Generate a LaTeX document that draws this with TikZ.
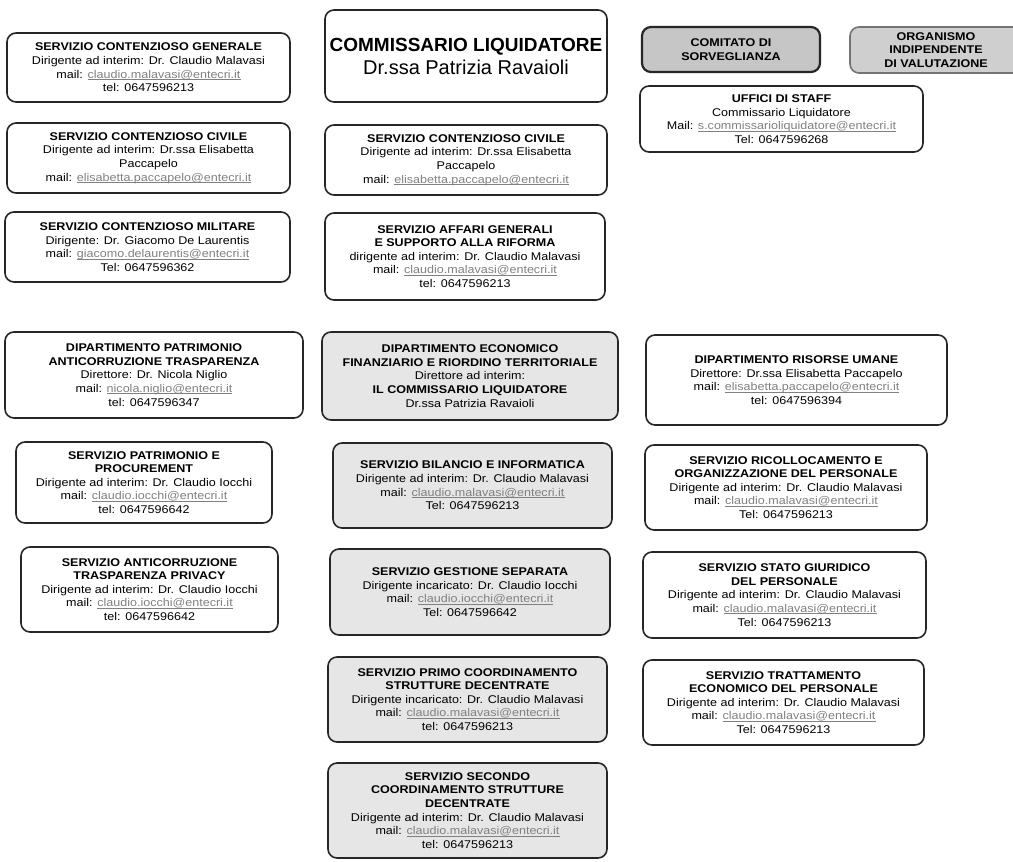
\documentclass[tikz,border=0pt]{standalone}
\usepackage{fontspec}
\setmainfont{Liberation Sans}[FakeStretch=1.12]
\newfontfamily\titlefont{Liberation Sans}
\definecolor{addr}{HTML}{808080}
\definecolor{boxgray}{HTML}{E6E6E6}
\definecolor{comgray}{HTML}{C6C6C6}
\definecolor{orggray}{HTML}{CFCFCF}
\definecolor{edge}{HTML}{262626}
\newcommand\mlink[2][mail]{#1: \textcolor{addr}{\setbox0\hbox{#2}\rlap{\rule[-1.4pt]{\wd0}{0.5pt}}\box0}}
\begin{document}
\begin{tikzpicture}[x=1pt,y=-1pt,
  box/.style={draw=edge, line width=1.6pt, rounded corners=9pt, align=center,
    inner sep=2pt, font=\fontsize{11.2}{13.6}\selectfont},
  graybox/.style={box, fill=boxgray},
  wh/.style 2 args={minimum width=#1pt, minimum height=#2pt}]
\useasboundingbox (0,0) rectangle (1013,862);

% ---------- left column ----------
\node[box, wh={283}{69}] (l1) at (148.5,67.5) {\textbf{SERVIZIO CONTENZIOSO GENERALE}\\Dirigente ad interim: Dr. Claudio Malavasi\\\mlink{claudio.malavasi@entecri.it}\\tel: 0647596213};
\node[box, wh={283}{70}] (l2) at (148.5,158) {\textbf{SERVIZIO CONTENZIOSO CIVILE}\\Dirigente ad interim: Dr.ssa Elisabetta\\Paccapelo\\\mlink{elisabetta.paccapelo@entecri.it}};
\node[box, wh={285}{70}] (l3) at (147.5,247) {\textbf{SERVIZIO CONTENZIOSO MILITARE}\\Dirigente: Dr. Giacomo De Laurentis\\\mlink{giacomo.delaurentis@entecri.it}\\Tel: 0647596362};
\node[box, wh={298}{86}] (l4) at (154,375) {\textbf{DIPARTIMENTO PATRIMONIO}\\\textbf{ANTICORRUZIONE TRASPARENZA}\\Direttore: Dr. Nicola Niglio\\\mlink{nicola.niglio@entecri.it}\\tel: 0647596347};
\node[box, wh={256}{81}] (l5) at (144,482.5) {\textbf{SERVIZIO PATRIMONIO E}\\\textbf{PROCUREMENT}\\Dirigente ad interim: Dr. Claudio Iocchi\\\mlink{claudio.iocchi@entecri.it}\\tel: 0647596642};
\node[box, wh={257}{85}] (l6) at (149.5,589.5) {\textbf{SERVIZIO ANTICORRUZIONE}\\\textbf{TRASPARENZA PRIVACY}\\Dirigente ad interim: Dr. Claudio Iocchi\\\mlink{claudio.iocchi@entecri.it}\\tel: 0647596642};

% ---------- middle column ----------
\node[box, wh={282}{92}, font=\titlefont\fontsize{19}{23}\selectfont] (m1) at (466,56) {\textbf{COMMISSARIO LIQUIDATORE}\\{\fontsize{20}{23}\selectfont Dr.ssa Patrizia Ravaioli}};
\node[box, wh={282}{70}] (m2) at (466,160) {\textbf{SERVIZIO CONTENZIOSO CIVILE}\\Dirigente ad interim: Dr.ssa Elisabetta\\Paccapelo\\\mlink{elisabetta.paccapelo@entecri.it}};
\node[box, wh={280}{87}] (m3) at (465,256.5) {\textbf{SERVIZIO AFFARI GENERALI}\\\textbf{E SUPPORTO ALLA RIFORMA}\\dirigente ad interim: Dr. Claudio Malavasi\\\mlink{claudio.malavasi@entecri.it}\\tel: 0647596213};
\node[graybox, wh={296}{88}] (m4) at (470,376) {\textbf{DIPARTIMENTO ECONOMICO}\\\textbf{FINANZIARIO E RIORDINO TERRITORIALE}\\Direttore ad interim:\\\textbf{IL COMMISSARIO LIQUIDATORE}\\Dr.ssa Patrizia Ravaioli};
\node[graybox, wh={279}{85}] (m5) at (472.5,485.5) {\textbf{SERVIZIO BILANCIO E INFORMATICA}\\Dirigente ad interim: Dr. Claudio Malavasi\\\mlink{claudio.malavasi@entecri.it}\\Tel: 0647596213};
\node[graybox, wh={280}{86}] (m6) at (470,592) {\textbf{SERVIZIO GESTIONE SEPARATA}\\Dirigente incaricato: Dr. Claudio Iocchi\\\mlink{claudio.iocchi@entecri.it}\\Tel: 0647596642};
\node[graybox, wh={279}{85}] (m7) at (467.5,699.5) {\textbf{SERVIZIO PRIMO COORDINAMENTO}\\\textbf{STRUTTURE DECENTRATE}\\Dirigente incaricato: Dr. Claudio Malavasi\\\mlink{claudio.malavasi@entecri.it}\\tel: 0647596213};
\node[graybox, wh={279}{95}] (m8) at (467.5,810.5) {\textbf{SERVIZIO SECONDO}\\\textbf{COORDINAMENTO STRUTTURE}\\\textbf{DECENTRATE}\\Dirigente ad interim: Dr. Claudio Malavasi\\\mlink{claudio.malavasi@entecri.it}\\tel: 0647596213};

% ---------- right column ----------
\node[box, fill=comgray, line width=2.2pt, wh={178}{45}] (r1) at (731,49.5) {\textbf{COMITATO DI}\\\textbf{SORVEGLIANZA}};
\node[box, fill=orggray, draw=black!55, wh={172}{46}] (r2) at (936,50) {\textbf{ORGANISMO}\\\textbf{INDIPENDENTE}\\\textbf{DI VALUTAZIONE}};
\node[box, wh={283}{66}] (r3) at (781.5,119) {\textbf{UFFICI DI STAFF}\\Commissario Liquidatore\\\mlink[Mail]{s.commissarioliquidatore@entecri.it}\\Tel: 0647596268};
\node[box, wh={301}{90}] (r4) at (796.5,380) {\textbf{DIPARTIMENTO RISORSE UMANE}\\Direttore: Dr.ssa Elisabetta Paccapelo\\\mlink{elisabetta.paccapelo@entecri.it}\\tel: 0647596394};
\node[box, wh={282}{85}] (r5) at (786,487.5) {\textbf{SERVIZIO RICOLLOCAMENTO E}\\\textbf{ORGANIZZAZIONE DEL PERSONALE}\\Dirigente ad interim: Dr. Claudio Malavasi\\\mlink{claudio.malavasi@entecri.it}\\Tel: 0647596213};
\node[box, wh={283}{86}] (r6) at (784.5,595) {\textbf{SERVIZIO STATO GIURIDICO}\\\textbf{DEL PERSONALE}\\Dirigente ad interim: Dr. Claudio Malavasi\\\mlink{claudio.malavasi@entecri.it}\\Tel: 0647596213};
\node[box, wh={281}{85}] (r7) at (783.5,702.5) {\textbf{SERVIZIO TRATTAMENTO}\\\textbf{ECONOMICO DEL PERSONALE}\\Dirigente ad interim: Dr. Claudio Malavasi\\\mlink{claudio.malavasi@entecri.it}\\Tel: 0647596213};
\end{tikzpicture}
\end{document}
